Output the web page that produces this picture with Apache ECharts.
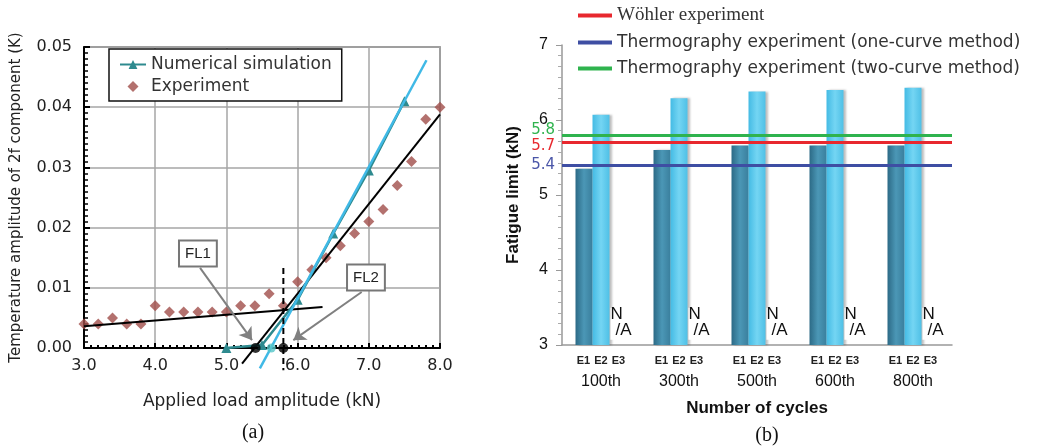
<html>
<head>
<script src="https://cdn.jsdelivr.net/npm/echarts@6/dist/echarts.min.js"></script>
</head>
<body style="margin:0;background:#fff">
<div id="container" style="width:1039px;height:448px"></div>
<script>
// (a) 2f temperature amplitude vs load
const loadExp = [3.0, 3.2, 3.4, 3.6, 3.8, 4.0, 4.2, 4.4, 4.6, 4.8, 5.0, 5.2, 5.4, 5.6, 5.8, 6.0, 6.2, 6.4, 6.6, 6.8, 7.0, 7.2, 7.4, 7.6, 7.8, 8.0];
const tempExp = [0.004, 0.004, 0.005, 0.004, 0.004, 0.007, 0.006, 0.006, 0.006, 0.006, 0.006, 0.007, 0.007, 0.009, 0.007, 0.011, 0.013, 0.015, 0.017, 0.019, 0.021, 0.023, 0.027, 0.031, 0.038, 0.040];
const loadSim = [5.0, 5.5, 6.0, 6.5, 7.0, 7.5];
const tempSim = [0, 0.0005, 0.008, 0.019, 0.0295, 0.041];
// fitted lines (end points)
const fitFlat = [[3.0, 0.0036], [6.35, 0.0068]];
const fitSteep = [[5.22, -0.0026], [8.0, 0.0388]];
const fitSim = [[5.47, -0.0034], [7.81, 0.0478]];
const fl2Line = [[5.8, 0.0133], [5.8, -0.0037]];
const interceptsBlack = [[5.41, 0], [5.8, 0]];
const interceptSim = [[5.63, 0]];
const xTicksA = [3, 8, 1];
const yTicksA = [0, 0.05, 0.01];

// (b) fatigue limit per number of cycles
const cycles = ['100th', '300th', '500th', '600th', '800th'];
const e1 = [5.35, 5.60, 5.66, 5.66, 5.66];
const e2 = [6.07, 6.29, 6.38, 6.40, 6.43];
const e3 = [null, null, null, null, null];
const wohler = 5.7;
const oneCurve = 5.4;
const twoCurve = 5.8;

const sans = 'DejaVu Sans';
const arial = 'Liberation Sans';

let mychart = echarts.init(document.getElementById('container'));

function grad(c0, c1, c2) {
    return new echarts.graphic.LinearGradient(0, 0, 1, 0, [
        { offset: 0, color: c0 }, { offset: 0.5, color: c1 }, { offset: 1, color: c2 }
    ]);
}

function zip(xs, ys) {
    return xs.map((x, i) => [x, ys[i]]);
}

// label for a limit line, nudged up (shift < 0) or down (shift > 0)
function limitLabel(color, shift) {
    return {
        position: 'start', distance: 7,
        formatter: p => shift < 0 ? '{v|' + p.value + '}\n{s|}' : shift > 0 ? '{s|}\n{v|' + p.value + '}' : '{v|' + p.value + '}',
        rich: {
            v: { color: color, fontFamily: sans, fontSize: 15, lineHeight: 16 },
            s: { lineHeight: Math.abs(shift) * 2, fontSize: 1 }
        }
    };
}

var option = {
    animation: false,
    grid: [
        { left: 84, top: 47, width: 356, height: 301, show: true, borderColor: '#666', borderWidth: 1.5 },
        { left: 562, top: 45, width: 390, height: 300 }
    ],
    legend: [
        {
            data: ['Numerical simulation', { name: 'Experiment', icon: 'path://M5,0L10,5L5,10L0,5Z' }],
            orient: 'vertical', left: 109, top: 49,
            padding: [7, 10, 6, 10], itemGap: 5,
            itemWidth: 26, itemHeight: 11, symbolKeepAspect: true,
            borderColor: '#111', borderWidth: 1.5, backgroundColor: '#fff',
            textStyle: { fontFamily: sans, fontSize: 17, color: '#333' }
        },
        {
            data: [
                { name: 'Wöhler experiment', textStyle: { fontFamily: 'Liberation Serif', fontSize: 19 } },
                { name: 'Thermography experiment (one-curve method)' },
                { name: 'Thermography experiment (two-curve method)' }
            ],
            orient: 'vertical', left: 573, top: 1,
            itemGap: 9, itemWidth: 34, itemHeight: 4, icon: 'rect',
            textStyle: { fontFamily: sans, fontSize: 17, color: '#333' }
        }
    ],
    xAxis: [
        {
            gridIndex: 0, type: 'value', min: xTicksA[0], max: xTicksA[1], interval: xTicksA[2],
            name: 'Applied load amplitude (kN)', nameLocation: 'middle', nameGap: 45,
            nameTextStyle: { fontFamily: sans, fontSize: 17, color: '#222' },
            axisLine: { lineStyle: { color: '#000', width: 2 } },
            axisTick: { inside: true, length: 5, lineStyle: { color: '#000', width: 2 } },
            minorTick: { show: true, splitNumber: 10, length: 3, lineStyle: { color: '#000', width: 2 } },
            splitLine: { lineStyle: { color: '#a6a6a6', width: 1.5 } },
            axisLabel: { formatter: v => v.toFixed(1), fontFamily: sans, fontSize: 16, color: '#222', margin: 10 }
        },
        {
            gridIndex: 1, type: 'category', data: cycles,
            name: 'Number of cycles', nameLocation: 'middle', nameGap: 55,
            nameTextStyle: { fontFamily: arial, fontSize: 17, fontWeight: 'bold', color: '#111' },
            axisLine: { lineStyle: { color: '#999', width: 1.5 } },
            axisTick: { length: 5, lineStyle: { color: '#999' } },
            axisLabel: {
                margin: 9, interval: 0,
                formatter: v => '{e|E1}{e|E2}{e|E3}\n{c|' + v + '}',
                rich: {
                    e: { width: 17.5, align: 'center', fontFamily: arial, fontSize: 11, fontWeight: 'bold', color: '#222', lineHeight: 14 },
                    c: { fontFamily: arial, fontSize: 16, color: '#111', lineHeight: 27 }
                }
            }
        }
    ],
    yAxis: [
        {
            gridIndex: 0, type: 'value', min: yTicksA[0], max: yTicksA[1], interval: yTicksA[2],
            name: 'Temperature amplitude of 2f component (K)', nameLocation: 'middle', nameGap: 60,
            nameTextStyle: { fontFamily: sans, fontSize: 15, color: '#222' },
            axisLine: { lineStyle: { color: '#000', width: 2 } },
            axisTick: { inside: true, length: 6, lineStyle: { color: '#000', width: 2 } },
            minorTick: { show: true, splitNumber: 10, length: 4, lineStyle: { color: '#000', width: 1.5 } },
            splitLine: { lineStyle: { color: '#a6a6a6', width: 1.5 } },
            axisLabel: { formatter: v => v.toFixed(2), fontFamily: sans, fontSize: 16, color: '#222', margin: 12 }
        },
        {
            gridIndex: 1, type: 'value', min: 3, max: 7, interval: 1,
            name: 'Fatigue limit (kN)', nameLocation: 'middle', nameGap: 40,
            nameTextStyle: { fontFamily: arial, fontSize: 17, fontWeight: 'bold', color: '#111' },
            axisLine: { show: true, lineStyle: { color: '#999', width: 1.5 } },
            axisTick: { show: true, length: 6, lineStyle: { color: '#999' } },
            minorTick: { show: true, splitNumber: 7, length: 4, lineStyle: { color: '#aaa' } },
            splitLine: { show: false },
            axisLabel: { fontFamily: arial, fontSize: 16, color: '#111', margin: 14 }
        }
    ],
    series: [
        {
            name: 'Experiment', type: 'scatter', xAxisIndex: 0, yAxisIndex: 0,
            data: zip(loadExp, tempExp), symbol: 'diamond', symbolSize: 11,
            itemStyle: { color: '#a04e4a' }, z: 3
        },
        {
            type: 'line', xAxisIndex: 0, yAxisIndex: 0, data: fitFlat, clip: false,
            showSymbol: false, lineStyle: { color: '#000', width: 2 }, z: 4
        },
        {
            type: 'line', xAxisIndex: 0, yAxisIndex: 0, data: fitSteep, clip: false,
            showSymbol: false, lineStyle: { color: '#000', width: 2 }, z: 4
        },
        {
            name: 'Numerical simulation', type: 'line', xAxisIndex: 0, yAxisIndex: 0,
            data: zip(loadSim, tempSim), symbol: 'triangle', symbolSize: 10,
            itemStyle: { color: '#2e8a8f' }, lineStyle: { color: '#2e8a8f', width: 2.5 }, z: 5
        },
        {
            type: 'line', xAxisIndex: 0, yAxisIndex: 0, data: fitSim, clip: false,
            showSymbol: false, lineStyle: { color: '#40b9e6', width: 2.5 }, z: 6
        },
        {
            type: 'line', xAxisIndex: 0, yAxisIndex: 0, data: fl2Line, clip: false,
            showSymbol: false, lineStyle: { color: '#000', width: 2, type: [6, 4] }, z: 6
        },
        {
            type: 'scatter', xAxisIndex: 0, yAxisIndex: 0, data: interceptSim,
            symbol: 'circle', symbolSize: 9, itemStyle: { color: '#55c6c8' }, z: 7
        },
        {
            type: 'scatter', xAxisIndex: 0, yAxisIndex: 0, data: interceptsBlack,
            symbol: 'circle', symbolSize: 10, itemStyle: { color: '#000' }, z: 8,
            markLine: {
                silent: true, symbol: ['none', 'arrow'], symbolSize: 12,
                lineStyle: { color: '#808080', width: 2, type: 'solid' },
                label: { show: false },
                data: [
                    [{ coord: [4.63, 0.0133] }, { coord: [5.36, 0.0013] }],
                    [{ coord: [6.90, 0.0093] }, { coord: [5.94, 0.0013] }]
                ]
            },
            markPoint: {
                silent: true, symbol: 'rect', symbolSize: 1,
                itemStyle: { color: 'rgba(0,0,0,0)' },
                label: {
                    show: true, formatter: '{b}', fontFamily: arial, fontSize: 15, color: '#222',
                    backgroundColor: '#fff', borderColor: '#777', borderWidth: 2, padding: [5, 5, 4, 5]
                },
                data: [
                    { name: 'FL1', coord: [4.60, 0.0157] },
                    { name: 'FL2', coord: [6.96, 0.0117] }
                ]
            }
        },
        {
            name: 'E1', type: 'bar', xAxisIndex: 1, yAxisIndex: 1, data: e1,
            barWidth: 17, barGap: '0%',
            itemStyle: { color: grad('#2c6a86', '#4b97b6', '#3a7f9d'), shadowColor: 'rgba(0,0,0,0.25)', shadowOffsetX: 2, shadowBlur: 2 }
        },
        {
            name: 'E2', type: 'bar', xAxisIndex: 1, yAxisIndex: 1, data: e2,
            barWidth: 17, barGap: '0%',
            itemStyle: { color: grad('#44bbe4', '#74d5f3', '#4fc0e6'), shadowColor: 'rgba(0,0,0,0.25)', shadowOffsetX: 2, shadowBlur: 2 }
        },
        {
            name: 'E3', type: 'bar', xAxisIndex: 1, yAxisIndex: 1, data: e3,
            barWidth: 17, barGap: '0%',
            markPoint: {
                silent: true, symbol: 'rect', symbolSize: 1,
                itemStyle: { color: 'rgba(0,0,0,0)' },
                label: {
                    show: true, offset: [3, 2],
                    formatter: '{n|N}\n{a|/A}',
                    backgroundColor: '#fff',
                    rich: {
                        n: { fontFamily: arial, fontSize: 17, color: '#111', lineHeight: 14, align: 'left' },
                        a: { fontFamily: arial, fontSize: 17, color: '#111', lineHeight: 18, padding: [0, 0, 0, 5] }
                    }
                },
                data: cycles.map((c, i) => ({ coord: [i, 3.31] }))
            }
        },
        {
            name: 'Wöhler experiment', type: 'line', xAxisIndex: 1, yAxisIndex: 1, data: [],
            itemStyle: { color: '#e8282e' }, lineStyle: { color: '#e8282e' }, z: 5,
            markLine: {
                silent: true, symbol: 'none', lineStyle: { color: '#e8282e', width: 3, type: 'solid' },
                label: limitLabel('#e8282e', 4),
                data: [{ yAxis: wohler }]
            }
        },
        {
            name: 'Thermography experiment (one-curve method)', type: 'line', xAxisIndex: 1, yAxisIndex: 1, data: [],
            itemStyle: { color: '#3e4ea3' }, lineStyle: { color: '#3e4ea3' }, z: 5,
            markLine: {
                silent: true, symbol: 'none', lineStyle: { color: '#3e4ea3', width: 3, type: 'solid' },
                label: limitLabel('#4a56a8', 0),
                data: [{ yAxis: oneCurve }]
            }
        },
        {
            name: 'Thermography experiment (two-curve method)', type: 'line', xAxisIndex: 1, yAxisIndex: 1, data: [],
            itemStyle: { color: '#2fb34e' }, lineStyle: { color: '#2fb34e' }, z: 5,
            markLine: {
                silent: true, symbol: 'none', lineStyle: { color: '#2fb34e', width: 3, type: 'solid' },
                label: limitLabel('#2fb34e', -5),
                data: [{ yAxis: twoCurve }]
            }
        }
    ],
    graphic: [
        { type: 'text', x: 253, y: 433, style: { text: '(a)', font: '20px "Liberation Serif"', fill: '#111', align: 'center', verticalAlign: 'middle' } },
        { type: 'text', x: 767, y: 436, style: { text: '(b)', font: '20px "Liberation Serif"', fill: '#111', align: 'center', verticalAlign: 'middle' } }
    ]
};

mychart.setOption(option);
</script>
</body>
</html>
